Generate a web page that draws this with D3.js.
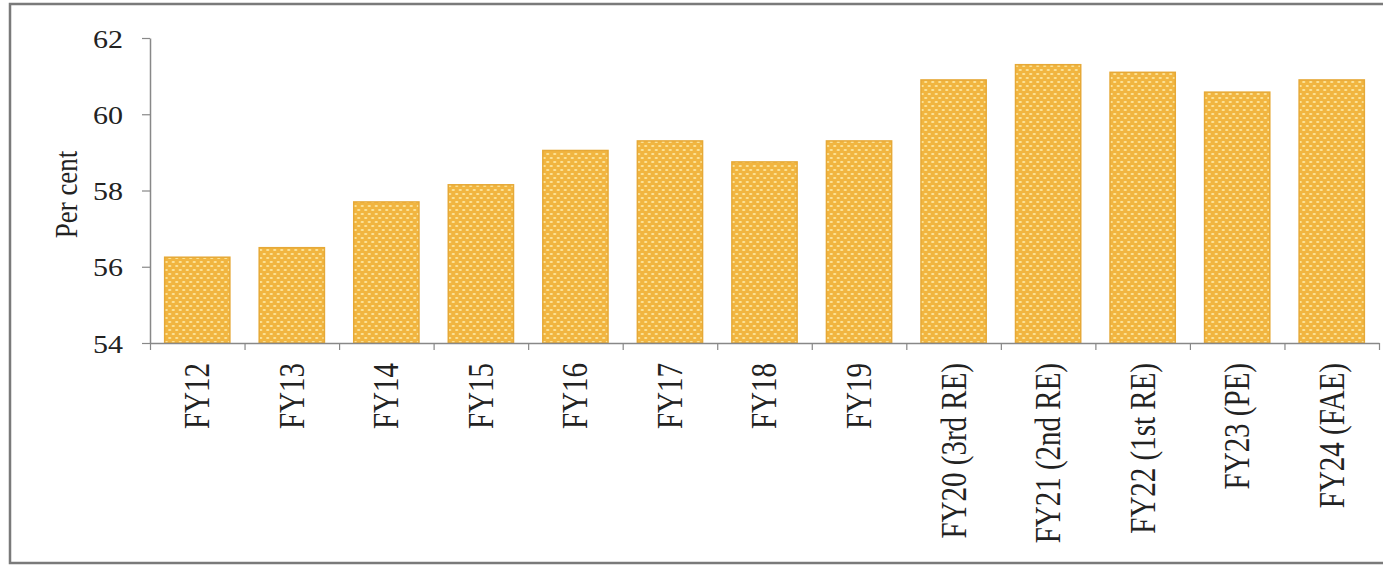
<!DOCTYPE html>
<html>
<head>
<meta charset="utf-8">
<script src="https://cdn.jsdelivr.net/npm/d3@7"></script>
<style>
  html, body { margin: 0; padding: 0; background: #fff; }
  svg { display: block; }
</style>
</head>
<body>
<svg id="chart" width="1383" height="571"></svg>
<script>
const categories = ["FY12","FY13","FY14","FY15","FY16","FY17","FY18","FY19","FY20 (3rd RE)","FY21 (2nd RE)","FY22 (1st RE)","FY23 (PE)","FY24 (FAE)"];
const values = [56.25, 56.5, 57.7, 58.15, 59.05, 59.3, 58.75, 59.3, 60.9, 61.3, 61.1, 60.58, 60.9];
const yTicks = [54, 56, 58, 60, 62];
const yLabel = "Per cent";

(function () {
const svg = d3.select("#chart");
const mLeft = 150, mRight = 1379, mTop = 38, mBottom = 343;

// frame
svg.append("rect").attr("x", 10).attr("y", 4).attr("width", 1400).attr("height", 559)
  .attr("fill", "#fff").attr("stroke", "#7a7a7a").attr("stroke-width", 2.5);

// pattern
const defs = svg.append("defs");
const pat = defs.append("pattern").attr("id", "dots").attr("patternUnits", "userSpaceOnUse")
  .attr("width", 7).attr("height", 8);
pat.append("rect").attr("width", 7).attr("height", 8).attr("fill", "#F1B540");
pat.append("ellipse").attr("cx", 1.75).attr("cy", 2).attr("rx", 1.7).attr("ry", 1.1).attr("fill", "#FCE59C");
pat.append("ellipse").attr("cx", 5.25).attr("cy", 6).attr("rx", 1.7).attr("ry", 1.1).attr("fill", "#FCE59C");

const x = d3.scaleBand().domain(categories).range([mLeft, mRight]).paddingInner(0.31).paddingOuter(0.155);
const y = d3.scaleLinear().domain([54, 62]).range([mBottom, mTop]);
const xi = d3.scaleLinear().domain([0, categories.length]).range([mLeft, mRight]);

// bars
svg.append("g").selectAll("rect").data(values).join("rect")
  .attr("x", (d, i) => x(categories[i]))
  .attr("y", d => y(d))
  .attr("width", x.bandwidth())
  .attr("height", d => y(54) - y(d))
  .attr("fill", "url(#dots)")
  .attr("stroke", "#E6A937").attr("stroke-width", 1.5);

// y axis
const yAxis = svg.append("g").attr("transform", `translate(${mLeft},0)`)
  .call(d3.axisLeft(y).tickValues(yTicks).tickSize(8).tickSizeOuter(0).tickPadding(19));
yAxis.select(".domain").attr("stroke", "#888").attr("stroke-width", 1.5);
yAxis.selectAll(".tick line").attr("stroke", "#888").attr("stroke-width", 1.2);
yAxis.selectAll(".tick text")
  .attr("font-family", "'Liberation Serif', 'Times New Roman', serif")
  .attr("font-size", 25).attr("fill", "#222")
  .each(function() {
    const t = d3.select(this);
    const xx = +t.attr("x");
    t.attr("x", 0).attr("transform", `translate(${xx},1) scale(1.2,1)`);
  });

// x axis line with boundary ticks
const xAxis = svg.append("g").attr("transform", `translate(0,${mBottom})`)
  .call(d3.axisBottom(xi).tickValues(d3.range(categories.length + 1)).tickFormat("").tickSize(7).tickSizeOuter(0));
xAxis.select(".domain").attr("stroke", "#888").attr("stroke-width", 1.5);
xAxis.selectAll(".tick line").attr("stroke", "#888").attr("stroke-width", 1.2);

// x labels
const xLab = svg.append("g").attr("transform", `translate(0,${mBottom})`)
  .call(d3.axisBottom(x).tickSize(0).tickPadding(0));
xLab.select(".domain").remove();
xLab.selectAll(".tick text")
  .attr("font-family", "'Liberation Serif', 'Times New Roman', serif")
  .attr("font-size", 29).attr("fill", "#222")
  .attr("text-anchor", "end").attr("dominant-baseline", "central")
  .attr("x", 0).attr("y", 0).attr("dy", null)
  .attr("transform", "translate(0,20) rotate(-90) scale(1,1.2)");

// y label
svg.append("text")
  .attr("transform", `translate(66,${(mTop + mBottom) / 2 + 4}) rotate(-90) scale(1,1.2)`)
  .attr("text-anchor", "middle").attr("dominant-baseline", "central")
  .attr("font-family", "'Liberation Serif', 'Times New Roman', serif")
  .attr("font-size", 27).attr("fill", "#222")
  .text(yLabel);
})();
</script>
</body>
</html>
